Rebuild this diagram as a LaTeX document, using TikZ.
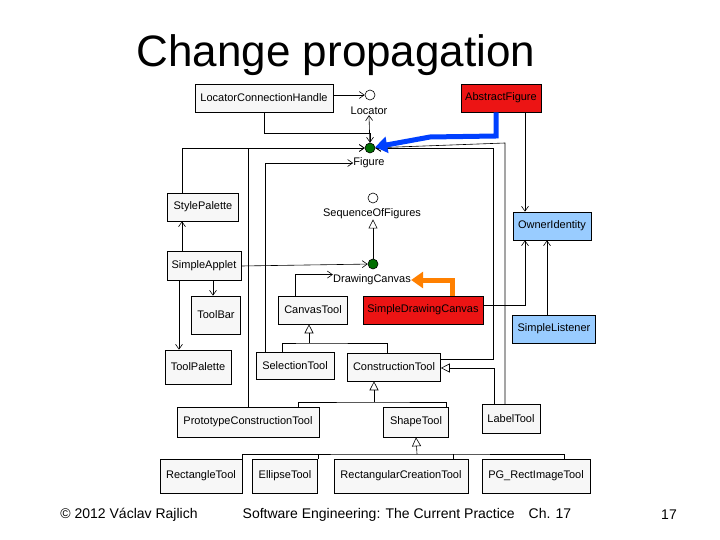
\documentclass[tikz,border=0pt]{standalone}
\usepackage{fontspec}
\setmainfont{Liberation Sans}
\usetikzlibrary{arrows.meta}
\definecolor{figred}{RGB}{236,20,20}
\definecolor{figblue}{RGB}{153,204,255}
\definecolor{dotgreen}{RGB}{0,110,0}
\begin{document}
\begin{tikzpicture}[x=1pt,y=-1pt,
  box/.style={draw,fill=white!97!black,inner sep=0pt,font=\fontsize{11}{13}\selectfont},
  lbl/.style={inner sep=0pt,font=\fontsize{11}{13}\selectfont},
  iface/.style={draw,circle,fill=white,minimum size=10pt,inner sep=0pt},
  dot/.style={draw,circle,fill=dotgreen,minimum size=10pt,inner sep=0pt},
  use/.style={-{Straight Barb[length=5pt,width=7pt]}},
  inh/.style={-{Triangle[open,length=9pt,width=9pt]}},
  every path/.style={line width=0.6pt}]
\useasboundingbox (0,0) rectangle (720,540);
\node[font=\fontsize{44}{50}\selectfont] (title) at (336,55) {Change propagation};
% classes
\node[box,minimum width=138,minimum height=28] (lch) at (264,98) {LocatorConnectionHandle};
\node[box,fill=figred,minimum width=80,minimum height=28] (af) at (501,98) {AbstractFigure};
\node[box,minimum width=71,minimum height=28] (sp) at (203,207) {StylePalette};
\node[box,fill=figblue,minimum width=78,minimum height=28] (oi) at (552,226) {OwnerIdentity};
\node[box,minimum width=74,minimum height=29] (sa) at (204,266) {SimpleApplet};
\node[box,minimum width=49,minimum height=38] (tb) at (216,315) {ToolBar};
\node[box,minimum width=69,minimum height=28] (ct) at (313,310) {CanvasTool};
\node[box,fill=figred,minimum width=120,minimum height=28] (sdc) at (423,310) {SimpleDrawingCanvas};
\node[box,fill=figblue,minimum width=83,minimum height=28] (sl) at (554,329) {SimpleListener};
\node[box,minimum width=66,minimum height=34] (tp) at (198,367) {ToolPalette};
\node[box,minimum width=78,minimum height=27] (selt) at (295,366) {SelectionTool};
\node[box,minimum width=93,minimum height=28] (cnt) at (394,367) {ConstructionTool};
\node[box,minimum width=142,minimum height=30] (pct) at (248,422) {PrototypeConstructionTool};
\node[box,minimum width=65,minimum height=30] (st) at (416,422) {ShapeTool};
\node[box,minimum width=58,minimum height=29] (lt) at (511,419) {LabelTool};
\node[box,minimum width=82,minimum height=34] (rt) at (201,476) {RectangleTool};
\node[box,minimum width=65,minimum height=34] (et) at (285,476) {EllipseTool};
\node[box,minimum width=134,minimum height=34] (rct) at (401,476) {RectangularCreationTool};
\node[box,minimum width=108,minimum height=34] (pgt) at (536,476) {PG\_RectImageTool};
% interfaces and objects
\node[iface] (loc) at (370,95) {};
\node[lbl] (locl) at (369,111) {Locator};
\node[dot] (fig) at (370,148) {};
\node[lbl] (figl) at (369,163) {Figure};
\node[iface] (sof) at (373,198) {};
\node[lbl] (sofl) at (372,214) {SequenceOfFigures};
\node[dot] (dc) at (373,264) {};
\node[lbl] (dcl) at (372,280) {DrawingCanvas};
% associations
\draw[use] (lch.east |- loc) -- (loc);
\draw[use] (lch.south) |- (370,133) -- (fig);
\draw[use] (fig) -- (locl.south);
\draw[use] (af.south -| 525,0) -- (oi.north -| 525,0);
\draw[use] (sp.north -| 182,0) |- (fig);
\draw[use] (pct.north) |- (251,148) -- (fig);
\draw[use] (cnt.east |- 0,359) -| (493,148) -- (fig);
\draw[use] (lt.north -| 505,0) |- (505,143) -- (fig);
\draw[use] (selt.north -| 265,0) |- (figl.west);
\draw[use] (sa.north -| 182,0) -- (sp.south -| 182,0);
\draw[use] (sa.south -| 179,0) -- (tp.north -| 179,0);
\draw[use] (sa.south -| 213,0) -- (tb.north -| 213,0);
\draw[use] (sa.east) -- (dc);
\draw[use] (ct.north -| 295,0) |- (dcl.north west);
\draw[use] (sdc.east |- 0,305) -| (oi.south -| 525,0);
\draw[use] (sl.north -| 547,0) -- (oi.south -| 547,0);
% generalisations
\draw[inh] (dc) -- (sof.south |- sofl.south);
\draw (selt.north -| 282,0) |- (309,343) -| (cnt.north -| 387,0);
\draw[inh] (309,343) -- (ct.south -| 309,0);
\draw (pct.north -| 298,0) |- (374,402) -| (st.north -| 446,0);
\draw[inh] (374,402) -- (cnt.south -| 374,0);
\draw[inh] (lt.north -| 494,0) |- (cnt.east |- 0,368);
\draw (rt.north -| 242,0) |- (417,454) -| (pgt.north -| 564,0);
\draw (et.north -| 318,0) -- (318,454);
\draw (rct.north -| 453,0) -- (453,454);
\draw[inh] (417,454) -- (st.south);
% change propagation
\draw[line width=5pt,color=blue!75!cyan,-{Triangle[length=12pt,width=16pt]}] (af.south -| 496,0) -- (496,136) -- (430,137) -- (fig);
\draw[line width=5pt,color=orange,-{Triangle[length=12pt,width=16pt]}] (sdc.north -| 452,0) |- (dcl.east);
% footer
\node[font=\fontsize{14}{16}\selectfont] (copy) at (129,515) {© 2012 Václav Rajlich};
\node[font=\fontsize{14}{16}\selectfont] (book) at (407,515) {Software Engineering: The Current Practice\quad Ch. 17};
\node[font=\fontsize{14}{16}\selectfont] (page) at (669,515) {17};
\end{tikzpicture}
\end{document}
